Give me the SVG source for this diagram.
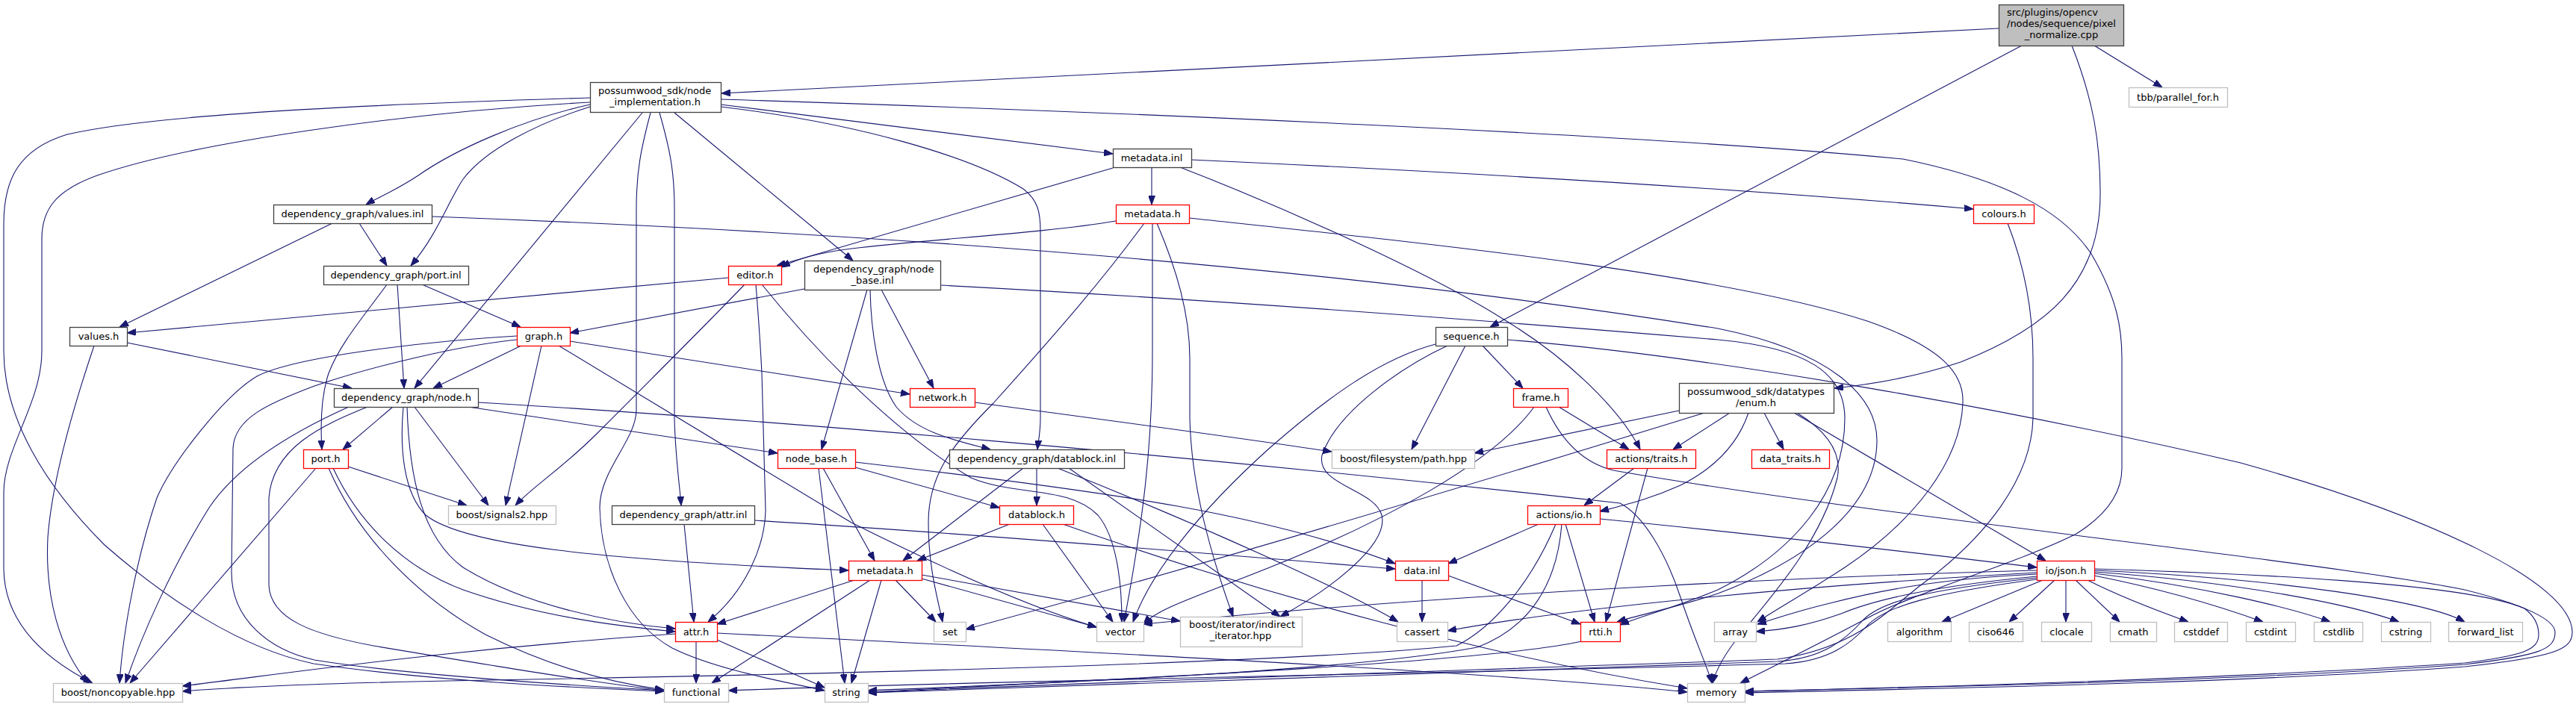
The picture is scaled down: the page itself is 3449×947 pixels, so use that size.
<svg xmlns="http://www.w3.org/2000/svg" width="3449" height="947" viewBox="0 0 3449 947">
<defs>
<marker id="a" markerUnits="userSpaceOnUse" markerWidth="12" markerHeight="9" viewBox="0 0 12 9" refX="12" refY="4.5" orient="auto"><path d="M0,0L12,4.5L0,9z" fill="#191970" stroke="#191970" stroke-width="1"/></marker>
</defs>
<style>
.e path{fill:none;stroke:#191970;stroke-width:1.1;marker-end:url(#a)}
.n rect{fill:#fff;stroke-width:1.3}
.k rect{stroke:#404040}
.r rect{stroke:#ff0000}
.g rect{stroke:#bfbfbf}
text{font-family:"DejaVu Sans",sans-serif;font-size:13px;fill:#000;text-anchor:middle}
text.l{text-anchor:start}
</style>
<rect width="3449" height="947" fill="#fff"/>
<g id="edges" class="e">
<path d="M2676,38 L966,125"/>
<path d="M2707,61 L1995,438"/>
<path d="M2774,61 C2803,135 2812,190 2812,260 C2812,380 2740,440 2625,485 C2565,505 2505,515 2456,520"/>
<path d="M2804,61 L2895,117"/>
<path d="M790,131 C560,138 220,150 90,180 C25,200 5,240 5,300 L5,470 C5,560 60,650 140,730 C220,800 320,868 420,889 C600,915 800,922 889,926"/>
<path d="M790,137 C550,150 260,190 130,235 C75,255 56,280 56,320 L56,470 C56,540 5,600 5,660 L5,760 C5,830 55,880 124,915"/>
<path d="M790,140 C700,160 610,200 560,235 C530,255 505,265 490,274"/>
<path d="M790,143 C720,165 650,200 620,240 C600,270 585,315 550,356"/>
<path d="M860,151 L555,520"/>
<path d="M871,151 C858,200 852,230 852,280 L852,550 C851,590 803,630 803,680 C805,760 840,835 900,868 C960,898 1060,915 1104,925"/>
<path d="M883,151 C897,200 903,230 903,280 L903,560 C904,610 910,650 912,677"/>
<path d="M903,151 L1142,349"/>
<path d="M965,140 L1490,206"/>
<path d="M965,143 C1150,165 1300,210 1370,253 C1390,268 1393,285 1393,310 L1393,560 C1393,580 1390,592 1389,602"/>
<path d="M965,133 C1500,150 2200,180 2548,213 C2680,240 2760,280 2800,340 C2835,400 2841,440 2841,480 L2841,627 C2841,660 2820,690 2780,715 C2700,755 2560,795 2500,828 C2440,860 2380,890 2330,915"/>
<path d="M1542,224 L1542,274"/>
<path d="M1595,214 C1900,228 2300,250 2642,280"/>
<path d="M1490,225 L1040,356"/>
<path d="M1580,224 C1750,290 1930,375 2012,427 C2100,480 2170,550 2196,602"/>
<path d="M1494,296 C1400,312 1250,320 1140,333 C1100,338 1070,345 1046,358"/>
<path d="M1532,299 C1480,370 1420,440 1330,540 C1270,600 1243,640 1243,700 C1243,760 1255,800 1262,833"/>
<path d="M1543,299 L1543,470 C1543,600 1530,700 1505,833"/>
<path d="M1549,299 C1575,360 1593,420 1593,480 L1593,560 C1595,650 1620,740 1651,826"/>
<path d="M1592,292 C1900,325 2300,365 2500,430 C2600,465 2630,500 2628,540 C2625,620 2560,700 2470,760 C2420,793 2380,815 2353,833"/>
<path d="M2688,299 C2712,360 2722,420 2722,480 L2722,560 C2720,640 2660,720 2570,785 C2520,825 2480,868 2380,883 C2000,897 1400,915 1162,928"/>
<path d="M565,381 L697,438"/>
<path d="M532,381 L541,520"/>
<path d="M518,381 C490,420 455,460 440,500 C430,530 429,570 431,602"/>
<path d="M481,299 L518,356"/>
<path d="M445,299 L160,438"/>
<path d="M578,290 C1200,313 1800,360 2300,440 C2450,470 2513,530 2513,590 C2513,680 2420,750 2300,795 C2240,815 2200,822 2165,833"/>
<path d="M1077,387 L763,446"/>
<path d="M1161,388 L1100,602"/>
<path d="M1165,388 C1166,440 1175,510 1200,545 C1230,580 1280,590 1326,602"/>
<path d="M1180,388 L1250,520"/>
<path d="M1259,382 C1600,400 2000,430 2300,455 C2420,466 2470,500 2470,560 C2470,660 2400,740 2300,790 C2240,815 2200,824 2169,837"/>
<path d="M975,372 L170,446"/>
<path d="M997,381 C950,430 870,510 800,580 C750,630 715,650 690,677"/>
<path d="M1012,381 C1016,430 1018,460 1020,500 L1025,684 C1024,730 1000,790 948,833"/>
<path d="M1020,381 C1100,480 1200,580 1300,640 C1360,665 1430,650 1470,690 C1495,720 1502,780 1502,833"/>
<path d="M698,463 L580,520"/>
<path d="M725,463 L677,677"/>
<path d="M748,463 L1140,700 C1300,780 1400,820 1468,840"/>
<path d="M763,457 L1218,528"/>
<path d="M692,450 C600,455 400,475 344,504 C300,530 230,620 210,667 C185,740 165,840 160,915"/>
<path d="M692,455 C620,462 500,490 421,517 C360,540 314,560 312,600 L310,767 C310,830 360,870 421,884 C550,905 800,920 889,925"/>
<path d="M170,459 L471,520"/>
<path d="M126,463 C100,540 70,640 64,720 C60,800 80,870 118,915"/>
<path d="M1922,461 C1850,480 1780,530 1700,600 C1600,690 1540,770 1517,833"/>
<path d="M1938,463 C1880,490 1790,550 1770,610 C1762,650 1840,655 1850,690 C1860,730 1780,790 1714,826"/>
<path d="M1962,463 L1890,602"/>
<path d="M1985,463 L2039,520"/>
<path d="M2018,455 C2300,478 2700,550 3000,620 C3250,690 3444,780 3444,847 C3444,870 3420,880 3300,893 C3000,915 2600,922 2336,928"/>
<path d="M526,545 L459,602"/>
<path d="M555,545 L654,677"/>
<path d="M627,545 L1041,607"/>
<path d="M640,539 C1000,560 1600,610 2169,674 C2200,690 2230,740 2250,800 C2270,860 2285,890 2292,915"/>
<path d="M540,545 C535,600 540,660 570,690 C620,730 800,750 1136,764"/>
<path d="M545,545 C548,640 565,720 620,760 C700,810 820,835 904,842"/>
<path d="M492,545 C430,570 365,600 360,667 L360,784 C362,830 420,850 500,865 C650,890 800,915 889,925"/>
<path d="M467,545 C400,575 320,620 280,680 C230,760 190,850 168,915"/>
<path d="M423,627 L174,915"/>
<path d="M466,625 L625,677"/>
<path d="M446,627 C480,700 540,760 620,790 C720,825 820,838 904,846"/>
<path d="M440,627 C480,720 560,800 650,850 C740,895 820,915 889,924"/>
<path d="M1305,539 C1500,565 1650,585 1783,605"/>
<path d="M2087,545 L2181,602"/>
<path d="M2054,545 C2000,620 1850,700 1700,760 C1600,800 1550,815 1531,836"/>
<path d="M2070,545 C2090,590 2120,620 2160,630 C2500,690 3100,750 3300,790 C3400,815 3421,835 3421,847 C3421,870 3400,878 3300,890 C3000,912 2600,920 2336,926"/>
<path d="M2248,550 L1974,607"/>
<path d="M2282,553 C2000,640 1600,760 1293,843"/>
<path d="M2316,553 L2240,602"/>
<path d="M2341,553 C2325,600 2290,630 2250,650 C2210,668 2180,675 2142,685"/>
<path d="M2362,553 L2388,602"/>
<path d="M2402,553 L2739,751"/>
<path d="M2406,553 C2450,580 2466,610 2460,640 C2440,720 2380,790 2330,850 C2310,875 2298,895 2293,915"/>
<path d="M1145,626 L1338,680"/>
<path d="M1102,627 L1171,751"/>
<path d="M1096,627 L1131,915"/>
<path d="M1145,619 C1500,660 1700,690 1868,755"/>
<path d="M1388,627 L1388,677"/>
<path d="M1370,627 L1209,751"/>
<path d="M1416,627 C1600,700 1800,790 1872,833"/>
<path d="M1431,627 L1714,826"/>
<path d="M2188,627 L2121,677"/>
<path d="M2206,627 L2150,833"/>
<path d="M1352,702 L1228,751"/>
<path d="M1396,702 L1490,833"/>
<path d="M1423,702 C1700,800 2000,880 2259,922"/>
<path d="M916,702 L929,833"/>
<path d="M1010,697 C1300,715 1600,740 1868,762"/>
<path d="M2060,702 L1939,755"/>
<path d="M2096,702 L2135,833"/>
<path d="M2142,695 C2400,720 2600,745 2727,760"/>
<path d="M2083,702 C2050,780 2000,840 1950,865 C1700,890 1000,905 600,912 C450,915 320,920 244,926"/>
<path d="M2091,702 C2085,780 2050,840 1978,867 C1800,900 1400,915 1162,925"/>
<path d="M1144,777 L960,836"/>
<path d="M1165,777 L953,915"/>
<path d="M1180,777 L1140,915"/>
<path d="M1199,777 L1253,833"/>
<path d="M1234,775 L1468,840"/>
<path d="M1234,770 L1580,832"/>
<path d="M1904,777 L1904,833"/>
<path d="M1939,771 L2116,836"/>
<path d="M2727,764 C2500,770 2000,790 1531,836"/>
<path d="M2727,767 C2400,785 2100,815 1938,845"/>
<path d="M2727,769 C2600,775 2520,790 2450,808 C2400,820 2380,828 2353,836"/>
<path d="M2727,772 C2590,785 2510,803 2465,822 C2420,838 2390,843 2351,846"/>
<path d="M2735,777 L2600,833"/>
<path d="M2751,777 L2690,833"/>
<path d="M2766,777 L2766,833"/>
<path d="M2779,777 L2838,833"/>
<path d="M2795,777 C2830,795 2880,815 2930,833"/>
<path d="M2804,771 C2900,790 2980,815 3030,833"/>
<path d="M2804,768 C2950,785 3070,815 3120,833"/>
<path d="M2804,766 C3000,780 3150,810 3212,833"/>
<path d="M2804,764 C3050,775 3250,805 3300,833"/>
<path d="M2804,762 C3000,768 3300,780 3380,815 C3396,827 3399,840 3399,850 C3399,870 3380,878 3300,888 C3000,908 2600,920 2336,926"/>
<path d="M2727,774 C2580,790 2520,805 2495,830 C2470,858 2440,882 2380,886 C2000,900 1400,918 1162,928"/>
<path d="M2727,776 C2585,795 2525,812 2500,838 C2478,862 2450,885 2390,889 C1900,903 1300,912 975,925"/>
<path d="M932,859 L932,915"/>
<path d="M960,857 L1104,921"/>
<path d="M904,849 C600,870 400,900 244,919"/>
<path d="M960,848 C1400,870 2000,900 2259,927"/>
<path d="M2118,859 C2000,885 1600,905 1162,927"/>
</g>
<g id="n_main" class="n k"><rect x="2676.5" y="6.5" width="167" height="55" style="fill:#bfbfbf"/><text class="l" x="2687" y="21">src/plugins/opencv</text><text class="l" x="2687" y="36">/nodes/sequence/pixel</text><text x="2760" y="51">_normalize.cpp</text></g>
<g id="n_node_impl" class="n k"><rect x="790.5" y="110.5" width="175" height="40"/><text class="l" x="801" y="126">possumwood_sdk/node</text><text x="877" y="141">_implementation.h</text></g>
<g id="n_tbb" class="n g"><rect x="2850.5" y="117.5" width="132" height="26"/><text x="2916" y="134.5">tbb/parallel_for.h</text></g>
<g id="n_metadata_inl" class="n k"><rect x="1490.5" y="199.5" width="105" height="25"/><text x="1542" y="216">metadata.inl</text></g>
<g id="n_values_inl" class="n k"><rect x="366.5" y="274.5" width="212" height="25"/><text x="472" y="291">dependency_graph/values.inl</text></g>
<g id="n_metadata_h1" class="n r"><rect x="1494.5" y="274.5" width="98" height="25"/><text x="1543" y="291">metadata.h</text></g>
<g id="n_colours" class="n r"><rect x="2642.5" y="274.5" width="81" height="25"/><text x="2683" y="291">colours.h</text></g>
<g id="n_port_inl" class="n k"><rect x="433.5" y="356.5" width="194" height="25"/><text x="530" y="373">dependency_graph/port.inl</text></g>
<g id="n_editor" class="n r"><rect x="975.5" y="356.5" width="71" height="25"/><text x="1011" y="373">editor.h</text></g>
<g id="n_node_base_inl" class="n k"><rect x="1077.5" y="349.5" width="182" height="39"/><text class="l" x="1089" y="365">dependency_graph/node</text><text x="1168" y="380">_base.inl</text></g>
<g id="n_values_h" class="n k"><rect x="93.5" y="438.5" width="77" height="25"/><text x="132" y="455">values.h</text></g>
<g id="n_graph" class="n r"><rect x="692.5" y="438.5" width="71" height="25"/><text x="728" y="455">graph.h</text></g>
<g id="n_sequence" class="n k"><rect x="1922.5" y="438.5" width="96" height="25"/><text x="1970" y="455">sequence.h</text></g>
<g id="n_node_h" class="n k"><rect x="447.5" y="520.5" width="193" height="25"/><text x="544" y="537">dependency_graph/node.h</text></g>
<g id="n_network" class="n r"><rect x="1218.5" y="520.5" width="87" height="25"/><text x="1262" y="537">network.h</text></g>
<g id="n_frame" class="n r"><rect x="2026.5" y="520.5" width="73" height="25"/><text x="2063" y="537">frame.h</text></g>
<g id="n_enum" class="n k"><rect x="2248.5" y="513.5" width="207" height="40"/><text class="l" x="2259" y="529">possumwood_sdk/datatypes</text><text x="2351" y="544">/enum.h</text></g>
<g id="n_port_h" class="n r"><rect x="406.5" y="602.5" width="60" height="25"/><text x="436" y="619">port.h</text></g>
<g id="n_node_base_h" class="n r"><rect x="1041.5" y="602.5" width="104" height="25"/><text x="1093" y="619">node_base.h</text></g>
<g id="n_datablock_inl" class="n k"><rect x="1271.5" y="602.5" width="234" height="25"/><text x="1388" y="619">dependency_graph/datablock.inl</text></g>
<g id="n_path" class="n g"><rect x="1783.5" y="602.5" width="191" height="25"/><text x="1879" y="619">boost/filesystem/path.hpp</text></g>
<g id="n_traits" class="n r"><rect x="2151.5" y="602.5" width="119" height="25"/><text x="2211" y="619">actions/traits.h</text></g>
<g id="n_data_traits" class="n r"><rect x="2345.5" y="602.5" width="104" height="25"/><text x="2397" y="619">data_traits.h</text></g>
<g id="n_signals2" class="n g"><rect x="600.5" y="677.5" width="144" height="25"/><text x="672" y="694">boost/signals2.hpp</text></g>
<g id="n_attr_inl" class="n k"><rect x="819.5" y="677.5" width="191" height="25"/><text x="915" y="694">dependency_graph/attr.inl</text></g>
<g id="n_datablock_h" class="n r"><rect x="1338.5" y="677.5" width="99" height="25"/><text x="1388" y="694">datablock.h</text></g>
<g id="n_io" class="n r"><rect x="2045.5" y="677.5" width="97" height="25"/><text x="2094" y="694">actions/io.h</text></g>
<g id="n_metadata_h2" class="n r"><rect x="1136.5" y="751.5" width="98" height="26"/><text x="1185" y="768.5">metadata.h</text></g>
<g id="n_data_inl" class="n r"><rect x="1868.5" y="751.5" width="71" height="26"/><text x="1904" y="768.5">data.inl</text></g>
<g id="n_json" class="n r"><rect x="2727.5" y="751.5" width="77" height="26"/><text x="2766" y="768.5">io/json.h</text></g>
<g id="n_attr_h" class="n r"><rect x="904.5" y="833.5" width="56" height="26"/><text x="932" y="850.5">attr.h</text></g>
<g id="n_set" class="n g"><rect x="1250.5" y="833.5" width="43" height="26"/><text x="1272" y="850.5">set</text></g>
<g id="n_vector" class="n g"><rect x="1468.5" y="833.5" width="63" height="26"/><text x="1500" y="850.5">vector</text></g>
<g id="n_iter" class="n g"><rect x="1580.5" y="826.5" width="163" height="40"/><text class="l" x="1592" y="841">boost/iterator/indirect</text><text x="1661" y="856">_iterator.hpp</text></g>
<g id="n_cassert" class="n g"><rect x="1870.5" y="833.5" width="68" height="26"/><text x="1904" y="850.5">cassert</text></g>
<g id="n_rtti" class="n r"><rect x="2116.5" y="833.5" width="53" height="26"/><text x="2143" y="850.5">rtti.h</text></g>
<g id="n_array" class="n g"><rect x="2295.5" y="833.5" width="56" height="26"/><text x="2323" y="850.5">array</text></g>
<g id="n_algorithm" class="n g"><rect x="2527.5" y="833.5" width="85" height="26"/><text x="2570" y="850.5">algorithm</text></g>
<g id="n_ciso646" class="n g"><rect x="2636.5" y="833.5" width="72" height="26"/><text x="2672" y="850.5">ciso646</text></g>
<g id="n_clocale" class="n g"><rect x="2733.5" y="833.5" width="67" height="26"/><text x="2767" y="850.5">clocale</text></g>
<g id="n_cmath" class="n g"><rect x="2825.5" y="833.5" width="62" height="26"/><text x="2856" y="850.5">cmath</text></g>
<g id="n_cstddef" class="n g"><rect x="2911.5" y="833.5" width="71" height="26"/><text x="2947" y="850.5">cstddef</text></g>
<g id="n_cstdint" class="n g"><rect x="3007.5" y="833.5" width="66" height="26"/><text x="3040" y="850.5">cstdint</text></g>
<g id="n_cstdlib" class="n g"><rect x="3098.5" y="833.5" width="65" height="26"/><text x="3131" y="850.5">cstdlib</text></g>
<g id="n_cstring" class="n g"><rect x="3188.5" y="833.5" width="66" height="26"/><text x="3221" y="850.5">cstring</text></g>
<g id="n_forward_list" class="n g"><rect x="3278.5" y="833.5" width="99" height="26"/><text x="3328" y="850.5">forward_list</text></g>
<g id="n_noncopyable" class="n g"><rect x="71.5" y="915.5" width="173" height="25"/><text x="158" y="932">boost/noncopyable.hpp</text></g>
<g id="n_functional" class="n g"><rect x="889.5" y="915.5" width="86" height="25"/><text x="932" y="932">functional</text></g>
<g id="n_string" class="n g"><rect x="1104.5" y="915.5" width="58" height="25"/><text x="1133" y="932">string</text></g>
<g id="n_memory" class="n g"><rect x="2259.5" y="915.5" width="77" height="25"/><text x="2298" y="932">memory</text></g>
</svg>
